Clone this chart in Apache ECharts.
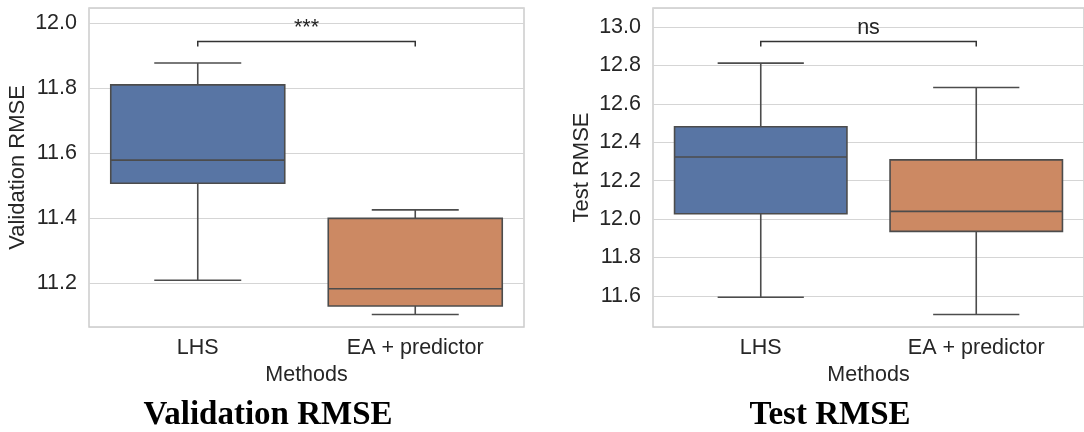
<!DOCTYPE html>
<html>
<head>
<meta charset="utf-8">
<title>RMSE boxplots</title>
<script src="https://cdn.jsdelivr.net/npm/echarts@6/dist/echarts.min.js"></script>
<style>
  html, body { margin: 0; padding: 0; background: #fff; }
  #chart { width: 1084px; height: 432px; }
</style>
</head>
<body>
<div id="chart"></div>
<script>
// categories
const methods = ['LHS', 'EA + predictor'];

// validation RMSE box stats (per method)
const valMin = [11.210, 11.105];
const valQ1 = [11.508, 11.131];
const valMed = [11.579, 11.184];
const valQ3 = [11.810, 11.400];
const valMax = [11.877, 11.426];

// test RMSE box stats (per method)
const testMin = [11.593, 11.503];
const testQ1 = [12.028, 11.936];
const testMed = [12.323, 12.040];
const testQ3 = [12.481, 12.308];
const testMax = [12.812, 12.685];

// significance brackets: [bar level, tick end level], label
const valBracket = [11.943, 11.928];
const valSig = '***';
const testBracket = [12.925, 12.899];
const testSig = 'ns';

// axis ranges
const valRange = [11.0665, 12.046];
const testRange = [11.438, 13.099];

const boxColors = ['#5875a4', '#cc8963'];
const edge = '#4c4c4c';
const textColor = '#262626';
const font = 'Liberation Sans, Arial, sans-serif';
const fs = 21.5;

function boxData(mn, q1, md, q3, mx) {
  return methods.map((m, i) => [i, mn[i], q1[i], md[i], q3[i], mx[i]]);
}

// seaborn style box: box 80% of band, caps half of box width
function renderBox(params, api) {
  const x = api.value(0);
  const lo = api.coord([x, api.value(1)]);
  const q1 = api.coord([x, api.value(2)]);
  const md = api.coord([x, api.value(3)]);
  const q3 = api.coord([x, api.value(4)]);
  const hi = api.coord([x, api.value(5)]);
  const band = api.size([1, 0])[0];
  const bw = band * 0.8;
  const cw = bw / 2;
  const cx = lo[0];
  const ls = { stroke: edge, lineWidth: 1.6 };
  return {
    type: 'group',
    children: [
      { type: 'line', shape: { x1: cx, y1: lo[1], x2: cx, y2: q1[1] }, style: ls },
      { type: 'line', shape: { x1: cx, y1: q3[1], x2: cx, y2: hi[1] }, style: ls },
      { type: 'line', shape: { x1: cx - cw / 2, y1: lo[1], x2: cx + cw / 2, y2: lo[1] }, style: ls },
      { type: 'line', shape: { x1: cx - cw / 2, y1: hi[1], x2: cx + cw / 2, y2: hi[1] }, style: ls },
      {
        type: 'rect',
        shape: { x: cx - bw / 2, y: q3[1], width: bw, height: q1[1] - q3[1] },
        style: { fill: boxColors[params.dataIndex], stroke: edge, lineWidth: 1.6 }
      },
      { type: 'line', shape: { x1: cx - bw / 2, y1: md[1], x2: cx + bw / 2, y2: md[1] }, style: ls }
    ]
  };
}

function bracketRenderer(label) {
  return function (params, api) {
    const a = api.coord([api.value(0), api.value(2)]);
    const b = api.coord([api.value(1), api.value(2)]);
    const t = api.coord([api.value(0), api.value(3)]);
    return {
      type: 'group',
      children: [
        {
          type: 'polyline',
          shape: { points: [[a[0], t[1]], [a[0], a[1]], [b[0], a[1]], [b[0], t[1]]] },
          style: { stroke: '#333333', lineWidth: 1.5, fill: null }
        },
        {
          type: 'text',
          x: (a[0] + b[0]) / 2,
          y: a[1] - 2,
          style: { text: label, fill: textColor, font: fs + 'px ' + font, align: 'center', verticalAlign: 'bottom' }
        }
      ]
    };
  };
}

function xAxisFor(idx) {
  return {
    type: 'category',
    gridIndex: idx,
    data: methods,
    name: 'Methods',
    nameLocation: 'middle',
    nameGap: 34,
    nameTextStyle: { color: textColor, fontSize: fs, fontFamily: font },
    axisLine: { show: false },
    axisTick: { show: false },
    axisLabel: { color: textColor, fontSize: fs, fontFamily: font, margin: 10 },
    splitLine: { show: false }
  };
}

function yAxisFor(idx, name, range, split) {
  return {
    type: 'value',
    gridIndex: idx,
    min: range[0],
    max: range[1],
    splitNumber: split,
    name: name,
    nameLocation: 'middle',
    nameGap: 60,
    nameTextStyle: { color: textColor, fontSize: fs + 0.5, fontFamily: font },
    axisLine: { show: false },
    axisTick: { show: false },
    axisLabel: {
      color: textColor, fontSize: fs, fontFamily: font, margin: 12,
      showMinLabel: false, showMaxLabel: false,
      formatter: v => v.toFixed(1)
    },
    splitLine: { show: true, lineStyle: { color: '#d5d5d5', width: 1.2 } }
  };
}

const chart = echarts.init(document.getElementById('chart'));
chart.setOption({
  animation: false,
  backgroundColor: '#ffffff',
  grid: [
    { left: 89, right: 560, top: 8, bottom: 105, show: true, borderColor: '#cccccc', borderWidth: 1.5, backgroundColor: '#fff' },
    { left: 653, right: -3, top: 8, bottom: 105, show: true, borderColor: '#cccccc', borderWidth: 1.5, backgroundColor: '#fff' }
  ],
  xAxis: [xAxisFor(0), xAxisFor(1)],
  yAxis: [
    yAxisFor(0, 'Validation RMSE', valRange, 5),
    yAxisFor(1, 'Test RMSE', testRange, 8)
  ],
  series: [
    {
      type: 'custom', xAxisIndex: 0, yAxisIndex: 0,
      renderItem: renderBox,
      encode: { x: 0, y: [1, 2, 3, 4, 5] },
      data: boxData(valMin, valQ1, valMed, valQ3, valMax)
    },
    {
      type: 'custom', xAxisIndex: 1, yAxisIndex: 1,
      renderItem: renderBox,
      encode: { x: 0, y: [1, 2, 3, 4, 5] },
      data: boxData(testMin, testQ1, testMed, testQ3, testMax)
    },
    {
      type: 'custom', xAxisIndex: 0, yAxisIndex: 0,
      renderItem: bracketRenderer(valSig),
      encode: { x: [0, 1], y: [2, 3] },
      data: [[0, 1, valBracket[0], valBracket[1]]]
    },
    {
      type: 'custom', xAxisIndex: 1, yAxisIndex: 1,
      renderItem: bracketRenderer(testSig),
      encode: { x: [0, 1], y: [2, 3] },
      data: [[0, 1, testBracket[0], testBracket[1]]]
    }
  ],
  graphic: [
    {
      type: 'text', x: 268, y: 415,
      style: { text: 'Validation RMSE', font: 'bold 33px "Liberation Serif", serif', fill: '#000', align: 'center', verticalAlign: 'middle' }
    },
    {
      type: 'text', x: 830, y: 415,
      style: { text: 'Test RMSE', font: 'bold 33px "Liberation Serif", serif', fill: '#000', align: 'center', verticalAlign: 'middle' }
    }
  ]
});
</script>
</body>
</html>
